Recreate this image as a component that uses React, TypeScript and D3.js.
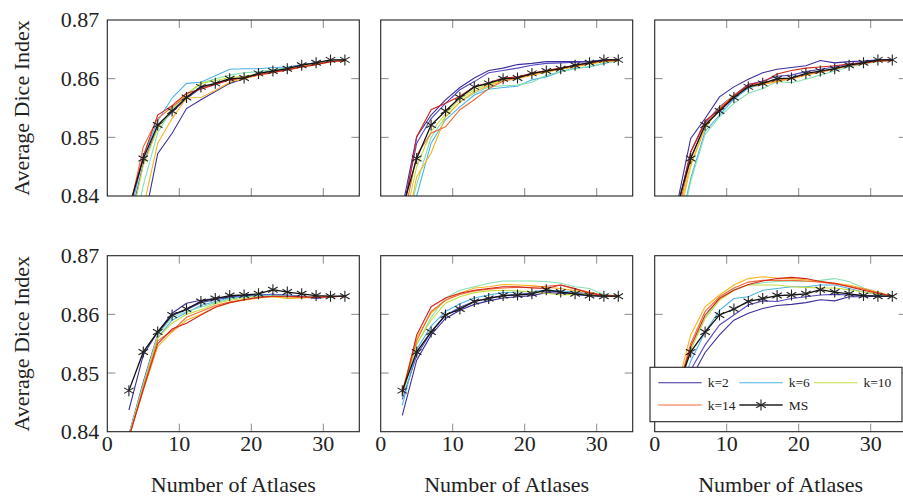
import * as d3 from "d3";

const W = 903;
const H = 497;

// number of atlases
const X = [3, 5, 7, 9, 11, 13, 15, 17, 19, 21, 23, 25, 27, 29, 31, 33];
const X_TICKS = [0, 10, 20, 30];
const Y_TICKS = [0.84, 0.85, 0.86, 0.87];

const K_NAMES = ["k=2", "k=4", "k=6", "k=8", "k=10", "k=12", "k=14", "k=16"];
const K_COLORS = ["#3b2f9e", "#5548c0", "#4db3e6", "#86e0b4", "#c6dc3c", "#f9b41f", "#f26a35", "#d2231f"];
const LEGEND_K = [0, 2, 4, 6];

const msTop = [0.8378, 0.8464, 0.8521, 0.8545, 0.8568, 0.8586, 0.8592, 0.86, 0.8601, 0.8609, 0.8613, 0.8617, 0.8623, 0.8627, 0.8632, 0.8632];
const msBottom = [0.847, 0.8536, 0.857, 0.8599, 0.8609, 0.8622, 0.8627, 0.8632, 0.8633, 0.8635, 0.8642, 0.8638, 0.8635, 0.8632, 0.8631, 0.8631];

const topLeft = [
  [0.826, 0.835, 0.8472, 0.8507, 0.8549, 0.8564, 0.8578, 0.8592, 0.86, 0.8608, 0.8613, 0.8618, 0.8622, 0.8627, 0.8631, 0.8631],
  [0.835, 0.8455, 0.8518, 0.8543, 0.8566, 0.8584, 0.8591, 0.8599, 0.8602, 0.8609, 0.8614, 0.8619, 0.8624, 0.8627, 0.8631, 0.8632],
  [0.836, 0.8468, 0.8528, 0.8567, 0.8592, 0.8594, 0.8605, 0.8616, 0.8617, 0.8617, 0.8619, 0.862, 0.8623, 0.8627, 0.863, 0.8631],
  [0.83, 0.8418, 0.8508, 0.8548, 0.8572, 0.8592, 0.86, 0.8606, 0.861, 0.8612, 0.8615, 0.8618, 0.8622, 0.8626, 0.863, 0.8631],
  [0.834, 0.8452, 0.8515, 0.855, 0.8574, 0.8592, 0.8597, 0.8602, 0.8604, 0.8608, 0.8612, 0.8616, 0.8621, 0.8625, 0.8629, 0.863],
  [0.826, 0.838, 0.849, 0.8532, 0.8567, 0.8568, 0.858, 0.8594, 0.86, 0.8606, 0.8611, 0.8616, 0.8621, 0.8625, 0.8629, 0.863],
  [0.837, 0.8484, 0.8532, 0.8552, 0.857, 0.8585, 0.859, 0.8598, 0.8601, 0.8606, 0.861, 0.8615, 0.862, 0.8624, 0.8629, 0.863],
  [0.838, 0.8468, 0.8538, 0.8554, 0.8575, 0.8582, 0.859, 0.8598, 0.8602, 0.8607, 0.8611, 0.8615, 0.862, 0.8624, 0.8629, 0.8631],
];

const topMiddle = [
  [0.838, 0.8501, 0.8538, 0.8564, 0.8585, 0.8601, 0.8614, 0.8618, 0.8624, 0.8626, 0.8629, 0.8629, 0.8629, 0.8629, 0.8632, 0.8632],
  [0.837, 0.849, 0.8532, 0.8558, 0.8581, 0.8595, 0.861, 0.8614, 0.8618, 0.8623, 0.8626, 0.8627, 0.8628, 0.8629, 0.8631, 0.8632],
  [0.829, 0.84, 0.849, 0.853, 0.8552, 0.8572, 0.8582, 0.8585, 0.8587, 0.8598, 0.8603, 0.8612, 0.8618, 0.862, 0.8626, 0.8631],
  [0.832, 0.842, 0.85, 0.8535, 0.856, 0.8575, 0.8586, 0.8588, 0.8589, 0.8594, 0.8606, 0.8612, 0.8617, 0.8621, 0.8626, 0.8631],
  [0.834, 0.845, 0.851, 0.854, 0.8565, 0.8582, 0.859, 0.8598, 0.8601, 0.8607, 0.8612, 0.8616, 0.8621, 0.8625, 0.8629, 0.8631],
  [0.831, 0.8433, 0.8473, 0.8535, 0.856, 0.8578, 0.8588, 0.8596, 0.86, 0.8606, 0.8611, 0.8616, 0.862, 0.8625, 0.8629, 0.8631],
  [0.835, 0.847, 0.8507, 0.8518, 0.8547, 0.8564, 0.8583, 0.8596, 0.8602, 0.8608, 0.8613, 0.8618, 0.8622, 0.8626, 0.863, 0.8631],
  [0.836, 0.8501, 0.8547, 0.8558, 0.857, 0.8586, 0.8593, 0.8601, 0.8603, 0.8609, 0.8614, 0.8618, 0.8623, 0.8627, 0.8631, 0.8632],
];

const topRight = [
  [0.838, 0.8498, 0.8532, 0.8569, 0.8586, 0.8599, 0.861, 0.8616, 0.8619, 0.8622, 0.8631, 0.8627, 0.8629, 0.863, 0.8632, 0.8632],
  [0.837, 0.8475, 0.8525, 0.8552, 0.8572, 0.859, 0.8596, 0.8604, 0.8606, 0.8612, 0.8616, 0.862, 0.8625, 0.8628, 0.8631, 0.8632],
  [0.832, 0.843, 0.851, 0.8538, 0.8565, 0.8584, 0.859, 0.86, 0.86, 0.8607, 0.8612, 0.8617, 0.8622, 0.8626, 0.863, 0.8631],
  [0.831, 0.8425, 0.8505, 0.8535, 0.8558, 0.8575, 0.8583, 0.8595, 0.8593, 0.8599, 0.8606, 0.8613, 0.862, 0.8625, 0.8629, 0.8631],
  [0.834, 0.845, 0.8518, 0.8548, 0.857, 0.8587, 0.8592, 0.8598, 0.86, 0.8607, 0.8612, 0.8617, 0.8622, 0.8626, 0.863, 0.8631],
  [0.835, 0.8455, 0.8515, 0.855, 0.8572, 0.8586, 0.859, 0.8595, 0.86, 0.8606, 0.8611, 0.8616, 0.8622, 0.8626, 0.863, 0.8631],
  [0.836, 0.8465, 0.8522, 0.855, 0.857, 0.8588, 0.8592, 0.8597, 0.8601, 0.8607, 0.8612, 0.8617, 0.8622, 0.8626, 0.863, 0.8631],
  [0.837, 0.8475, 0.8528, 0.8547, 0.857, 0.859, 0.8594, 0.8608, 0.8614, 0.8618, 0.862, 0.8622, 0.8625, 0.8627, 0.863, 0.8631],
];

const bottomLeft = [
  [0.8437, 0.8531, 0.857, 0.8602, 0.8619, 0.8624, 0.8627, 0.863, 0.8632, 0.8633, 0.8634, 0.8632, 0.863, 0.8627, 0.863, 0.8631],
  [0.8395, 0.8485, 0.8566, 0.8598, 0.8608, 0.862, 0.8625, 0.8629, 0.863, 0.8632, 0.8634, 0.8633, 0.8631, 0.8629, 0.863, 0.8631],
  [0.8395, 0.8482, 0.856, 0.859, 0.8603, 0.8615, 0.8622, 0.8628, 0.863, 0.8632, 0.8633, 0.8632, 0.863, 0.8629, 0.863, 0.8631],
  [0.8393, 0.848, 0.8565, 0.8595, 0.8605, 0.8612, 0.862, 0.8626, 0.8629, 0.8631, 0.8632, 0.8631, 0.863, 0.8629, 0.863, 0.8631],
  [0.8393, 0.8478, 0.856, 0.8585, 0.86, 0.8608, 0.8618, 0.8624, 0.8627, 0.863, 0.863, 0.8628, 0.8629, 0.8629, 0.863, 0.8631],
  [0.839, 0.847, 0.8545, 0.857, 0.859, 0.86, 0.8612, 0.862, 0.8624, 0.8628, 0.863, 0.8627, 0.8628, 0.8629, 0.863, 0.8631],
  [0.839, 0.8475, 0.8555, 0.8572, 0.8595, 0.8605, 0.8615, 0.8621, 0.8625, 0.8629, 0.8631, 0.863, 0.8629, 0.8629, 0.863, 0.8631],
  [0.839, 0.8472, 0.855, 0.8575, 0.8585, 0.8599, 0.8612, 0.862, 0.8625, 0.8629, 0.8631, 0.8631, 0.863, 0.8629, 0.863, 0.8631],
];

const bottomMiddle = [
  [0.8428, 0.8522, 0.8565, 0.8593, 0.8607, 0.8617, 0.8623, 0.8628, 0.863, 0.8632, 0.8637, 0.8636, 0.8634, 0.8632, 0.8631, 0.8631],
  [0.8455, 0.853, 0.857, 0.8598, 0.8612, 0.8622, 0.8628, 0.8632, 0.8634, 0.8636, 0.864, 0.8638, 0.8636, 0.8634, 0.8631, 0.8631],
  [0.8445, 0.854, 0.858, 0.8605, 0.8618, 0.8628, 0.8633, 0.8637, 0.8638, 0.8639, 0.8641, 0.864, 0.8638, 0.8636, 0.8632, 0.8631],
  [0.846, 0.8548, 0.8595, 0.8628, 0.8641, 0.8647, 0.8653, 0.8657, 0.8657, 0.8657, 0.8656, 0.8653, 0.8647, 0.8644, 0.8634, 0.8631],
  [0.8465, 0.855, 0.859, 0.8619, 0.863, 0.8637, 0.864, 0.8641, 0.864, 0.8638, 0.8636, 0.8633, 0.8634, 0.8634, 0.8632, 0.8631],
  [0.847, 0.856, 0.8602, 0.8624, 0.8636, 0.8645, 0.8647, 0.8651, 0.865, 0.8649, 0.8646, 0.8644, 0.864, 0.8637, 0.8632, 0.8631],
  [0.8468, 0.8555, 0.8605, 0.8624, 0.8634, 0.864, 0.8643, 0.8645, 0.8646, 0.8646, 0.8648, 0.865, 0.8643, 0.8638, 0.8632, 0.8631],
  [0.8463, 0.8565, 0.8613, 0.8628, 0.8636, 0.8641, 0.8644, 0.8647, 0.8647, 0.8645, 0.8644, 0.865, 0.8644, 0.8636, 0.8632, 0.8631],
];

const bottomRight = [
  [0.8425, 0.849, 0.8535, 0.8565, 0.859, 0.8602, 0.861, 0.8615, 0.8617, 0.862, 0.8625, 0.8623, 0.863, 0.863, 0.8631, 0.8631],
  [0.8435, 0.8505, 0.8548, 0.8582, 0.8599, 0.8616, 0.8623, 0.8622, 0.8627, 0.863, 0.8633, 0.8634, 0.8633, 0.8632, 0.8631, 0.8631],
  [0.8445, 0.852, 0.857, 0.8607, 0.8627, 0.863, 0.8641, 0.8644, 0.8647, 0.8647, 0.865, 0.865, 0.8644, 0.8638, 0.8634, 0.8631],
  [0.8455, 0.854, 0.8595, 0.8627, 0.8643, 0.865, 0.8654, 0.8656, 0.8657, 0.8656, 0.8658, 0.8661, 0.8656, 0.8645, 0.8638, 0.8631],
  [0.8455, 0.854, 0.8593, 0.8624, 0.8641, 0.865, 0.865, 0.865, 0.8647, 0.8646, 0.8645, 0.8645, 0.8642, 0.8638, 0.8635, 0.8631],
  [0.847, 0.8565, 0.8613, 0.8633, 0.865, 0.8661, 0.8664, 0.8662, 0.8661, 0.8659, 0.8656, 0.8653, 0.865, 0.8644, 0.8638, 0.8631],
  [0.8465, 0.855, 0.8605, 0.863, 0.8645, 0.8655, 0.8658, 0.8658, 0.8658, 0.8657, 0.8655, 0.8652, 0.8648, 0.8643, 0.8637, 0.8631],
  [0.846, 0.8545, 0.8599, 0.8627, 0.8641, 0.8651, 0.8657, 0.8661, 0.8663, 0.8661, 0.8656, 0.8653, 0.8647, 0.8641, 0.8636, 0.8631],
];

const PANELS = [
  { id: "a", col: 0, row: 0, series: topLeft, ms: msTop },
  { id: "b", col: 1, row: 0, series: topMiddle, ms: msTop },
  { id: "c", col: 2, row: 0, series: topRight, ms: msTop },
  { id: "d", col: 0, row: 1, series: bottomLeft, ms: msBottom },
  { id: "e", col: 1, row: 1, series: bottomMiddle, ms: msBottom },
  { id: "f", col: 2, row: 1, series: bottomRight, ms: msBottom },
];

const COL_X = [107.3, 380.7, 654.7];
const ROW_Y = [20, 255.7];
const PW = 252;
const PH = 176;
const TICK = 8;
const FONT = "'Liberation Serif', 'Times New Roman', serif";

const asterisk = (r: number) => {
  const a = Math.PI / 6;
  const dx = r * Math.cos(a), dy = r * Math.sin(a);
  return `M0,${-r}L0,${r}M${-dx},${-dy}L${dx},${dy}M${-dx},${dy}L${dx},${-dy}`;
};

const Panel = ({ p }: { p: typeof PANELS[number] }) => {
  const left = COL_X[p.col];
  const top = ROW_Y[p.row];
  const x = d3.scaleLinear().domain([0, 35]).range([left, left + PW]);
  const y = d3.scaleLinear().domain([0.84, 0.87]).range([top + PH, top]);
  const line = d3.line<number>().x((_, i) => x(X[i])).y(d => y(d));

  return (
    <g>
      <defs>
        <clipPath id={`clip-${p.id}`}>
          <rect x={left} y={top} width={PW} height={PH} />
        </clipPath>
      </defs>
      {/* ticks on all four sides, pointing inward */}
      <g stroke="#8a8a8a" strokeWidth={1}>
        {X_TICKS.slice(1).map(t => (
          <g key={t}>
            <line x1={x(t)} x2={x(t)} y1={top + PH} y2={top + PH - TICK} />
            <line x1={x(t)} x2={x(t)} y1={top} y2={top + TICK} />
          </g>
        ))}
        {Y_TICKS.slice(1, -1).map(t => (
          <g key={t}>
            <line x1={left} x2={left + TICK} y1={y(t)} y2={y(t)} />
            <line x1={left + PW} x2={left + PW - TICK} y1={y(t)} y2={y(t)} />
          </g>
        ))}
      </g>
      <g clipPath={`url(#clip-${p.id})`} fill="none">
        {p.series.map((s, i) => (
          <path key={i} d={line(s) || ""} stroke={K_COLORS[i]} strokeWidth={1.1} />
        ))}
        <path d={line(p.ms) || ""} stroke="#111" strokeWidth={1.3} />
        {p.ms.map((v, i) => (
          <path key={i} transform={`translate(${x(X[i])},${y(v)})`} d={asterisk(5.5)} stroke="#222" strokeWidth={1.1} />
        ))}
      </g>
      <rect x={left} y={top} width={PW} height={PH} fill="none" stroke="#222" strokeWidth={1.1} />
      {p.col === 0 && (
        <g fontFamily={FONT} fontSize={22} fill="#222">
          {Y_TICKS.map(t => (
            <text key={t} x={left - 8} y={y(t)} dy="0.34em" textAnchor="end">{t.toFixed(2)}</text>
          ))}
          <text transform={`translate(29,${top + PH / 2}) rotate(-90)`} textAnchor="middle">Average Dice Index</text>
        </g>
      )}
      {p.row === 1 && (
        <g fontFamily={FONT} fontSize={22} fill="#222">
          {X_TICKS.map(t => (
            <text key={t} x={x(t)} y={top + PH + 19} textAnchor="middle">{t}</text>
          ))}
          <text x={left + PW / 2} y={492} textAnchor="middle">Number of Atlases</text>
        </g>
      )}
    </g>
  );
};

const Legend = () => {
  const lx = 650, ly = 367.3, lw = 252, lh = 54.4;
  const rows = [382.7, 405];
  const cols = [658.3, 739.3, 814];
  const items = [
    ...LEGEND_K.map(k => ({ name: K_NAMES[k], color: K_COLORS[k], ms: false })),
    { name: "MS", color: "#222", ms: true },
  ];
  return (
    <g>
      <rect x={lx} y={ly} width={lw} height={lh} fill="#fff" stroke="#222" strokeWidth={1.1} />
      {items.map((it, i) => {
        const cx = cols[i % 3];
        const cy = rows[Math.floor(i / 3)];
        return (
          <g key={it.name}>
            <line x1={cx} x2={cx + 43.4} y1={cy} y2={cy} stroke={it.color} strokeWidth={it.ms ? 1.3 : 1.1} />
            {it.ms && <path transform={`translate(${cx + 21.7},${cy})`} d={asterisk(5.5)} stroke="#222" strokeWidth={1.1} fill="none" />}
            <text x={cx + 49.4} y={cy} dy="0.34em" fontFamily={FONT} fontSize={13.5} fill="#222">{it.name}</text>
          </g>
        );
      })}
    </g>
  );
};

export default function App() {
  return (
    <svg width={W} height={H} style={{ position: "absolute", left: 0, top: 0, background: "#fff" }}>
      {PANELS.map(p => <Panel key={p.id} p={p} />)}
      <Legend />
    </svg>
  );
}
